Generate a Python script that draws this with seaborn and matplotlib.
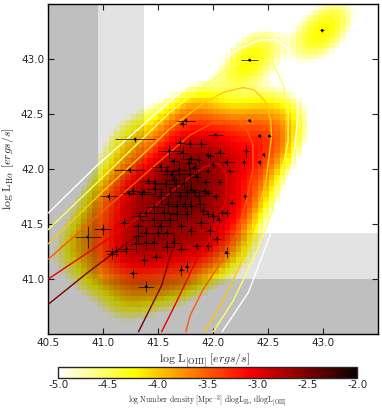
import numpy as np
import matplotlib
matplotlib.use("Agg")
import matplotlib.pyplot as plt
import seaborn as sns
import pandas as pd

# ---------------- data ----------------
log_l_oiii = [42.99, 42.33, 42.33, 42.42, 42.51, 42.02, 41.75, 41.72, 41.29, 41.24,
              42.30, 42.46, 42.42, 42.28, 42.15, 42.12, 42.06, 42.06, 41.89, 41.79,
              41.70, 41.60, 41.72, 41.80, 41.87, 41.95, 41.52, 41.58, 41.62, 41.69,
              41.83, 41.79, 41.93, 41.41, 41.47, 41.57, 41.66, 41.73, 41.37, 41.35,
              41.23, 41.05, 42.29, 41.95, 41.80, 41.87, 40.86, 41.00, 41.19, 41.08,
              41.12, 41.21, 41.27, 41.39, 41.30, 41.32, 41.33, 41.39, 41.37, 41.48,
              41.46, 41.39, 41.46, 41.52, 41.58, 41.61, 41.55, 41.64, 41.71, 41.80,
              41.85, 41.71, 41.76, 41.67, 41.74, 41.80, 41.88, 41.95, 42.00, 42.05,
              42.12, 42.17, 42.03, 42.12, 41.97, 41.89, 42.08, 41.46, 41.39, 41.59,
              41.67, 41.76, 41.91, 41.32, 41.50, 41.58, 41.71, 41.95, 41.61, 41.76,
              41.83, 42.02, 41.52, 41.70, 41.92, 41.27, 41.47, 41.64, 41.85, 41.78,
              41.97, 41.64, 42.00, 41.95]
log_l_ha = [43.26, 42.99, 42.44, 42.30, 42.30, 42.31, 42.44, 42.41, 42.27, 41.99,
            42.16, 42.13, 42.06, 42.06, 41.98, 42.06, 42.15, 41.88, 42.23, 42.23,
            42.24, 42.16, 42.15, 42.09, 42.08, 41.98, 42.02, 41.98, 41.95, 41.99,
            42.01, 41.95, 41.88, 41.89, 41.87, 41.86, 41.86, 41.87, 41.79, 41.77,
            41.78, 41.75, 41.75, 41.78, 41.81, 41.75, 41.38, 41.45, 41.51, 41.23,
            41.25, 41.27, 41.05, 40.93, 41.32, 41.39, 41.57, 41.33, 41.17, 41.20,
            41.33, 41.42, 41.54, 41.48, 41.42, 41.54, 41.60, 41.33, 41.48, 41.44,
            41.30, 41.08, 41.11, 41.66, 41.68, 41.66, 41.68, 41.59, 41.57, 41.54,
            41.60, 41.69, 41.36, 41.24, 41.44, 41.51, 41.60, 41.65, 41.60, 41.68,
            41.59, 41.59, 41.62, 41.48, 41.42, 41.29, 41.27, 41.30, 41.79, 41.79,
            41.79, 41.75, 41.75, 41.75, 41.80, 41.80, 41.82, 41.90, 41.93, 42.05,
            42.12, 42.07, 42.04, 42.13]
err_oiii = [0.02, 0.08, 0.01, 0.01, 0.01, 0.07, 0.08, 0.03, 0.18, 0.14,
            0.03, 0.01, 0.01, 0.02, 0.03, 0.08, 0.05, 0.03, 0.05, 0.05,
            0.04, 0.10, 0.06, 0.07, 0.03, 0.03, 0.08, 0.12, 0.10, 0.07,
            0.05, 0.09, 0.04, 0.06, 0.10, 0.12, 0.06, 0.05, 0.06, 0.12,
            0.06, 0.08, 0.02, 0.04, 0.06, 0.05, 0.12, 0.08, 0.05, 0.05,
            0.10, 0.08, 0.04, 0.07, 0.06, 0.05, 0.08, 0.07, 0.04, 0.05,
            0.04, 0.06, 0.12, 0.08, 0.04, 0.06, 0.10, 0.07, 0.05, 0.04,
            0.04, 0.02, 0.02, 0.08, 0.06, 0.05, 0.05, 0.05, 0.04, 0.03,
            0.03, 0.03, 0.03, 0.02, 0.05, 0.06, 0.03, 0.08, 0.10, 0.07,
            0.06, 0.05, 0.04, 0.05, 0.06, 0.05, 0.05, 0.03, 0.10, 0.06,
            0.05, 0.03, 0.08, 0.06, 0.04, 0.06, 0.07, 0.06, 0.05, 0.04,
            0.04, 0.05, 0.03, 0.03]
err_ha = [0.01, 0.01, 0.01, 0.02, 0.01, 0.01, 0.02, 0.03, 0.02, 0.03,
          0.06, 0.02, 0.02, 0.03, 0.02, 0.03, 0.05, 0.03, 0.04, 0.04,
          0.05, 0.06, 0.06, 0.04, 0.03, 0.03, 0.04, 0.05, 0.03, 0.07,
          0.05, 0.06, 0.03, 0.03, 0.04, 0.05, 0.06, 0.05, 0.03, 0.05,
          0.03, 0.03, 0.02, 0.03, 0.08, 0.05, 0.10, 0.05, 0.04, 0.05,
          0.05, 0.04, 0.04, 0.05, 0.08, 0.05, 0.05, 0.06, 0.05, 0.04,
          0.05, 0.05, 0.05, 0.05, 0.04, 0.06, 0.05, 0.05, 0.06, 0.05,
          0.03, 0.05, 0.05, 0.06, 0.05, 0.07, 0.05, 0.04, 0.05, 0.03,
          0.04, 0.02, 0.03, 0.05, 0.05, 0.06, 0.03, 0.05, 0.04, 0.07,
          0.05, 0.06, 0.04, 0.04, 0.05, 0.06, 0.04, 0.04, 0.05, 0.06,
          0.04, 0.03, 0.06, 0.05, 0.04, 0.04, 0.05, 0.05, 0.05, 0.06,
          0.03, 0.04, 0.03, 0.03]

# model luminosity-function contours (log number density levels)
contour_levels = [-5.0, -4.5, -4.0, -3.5, -3.0, -2.5]
contour_m50_x = [40.50, 40.95, 41.36, 41.76, 42.00, 42.23, 42.42, 42.56, 42.68, 42.75, 42.77, 42.73, 42.64, 42.52, 42.32, 42.08]
contour_m50_y = [41.60, 42.04, 42.40, 42.75, 42.93, 43.09, 43.17, 43.18, 43.10, 42.88, 42.50, 42.10, 41.75, 41.41, 40.88, 40.52]
contour_m45_x = [40.50, 41.00, 41.61, 41.91, 42.15, 42.30, 42.41, 42.55, 42.64, 42.68, 42.68, 42.64, 42.53, 42.39, 42.18, 42.00]
contour_m45_y = [41.45, 41.93, 42.52, 42.75, 42.92, 42.99, 43.00, 42.95, 42.75, 42.51, 42.25, 42.06, 41.60, 41.24, 40.80, 40.52]
contour_m40_x = [40.50, 41.00, 41.41, 41.61, 41.91, 42.10, 42.27, 42.37, 42.47, 42.52, 42.53, 42.48, 42.35, 42.24, 42.09, 41.92]
contour_m40_y = [41.32, 41.80, 42.18, 42.37, 42.60, 42.70, 42.74, 42.72, 42.62, 42.45, 42.30, 41.90, 41.39, 41.12, 40.80, 40.52]
contour_m35_x = [40.50, 41.00, 41.50, 41.79, 42.00, 42.17, 42.30, 42.36, 42.36, 42.29, 42.21, 42.05, 41.91, 41.79, 41.75]
contour_m35_y = [41.18, 41.62, 42.06, 42.31, 42.42, 42.44, 42.37, 42.22, 42.00, 41.66, 41.41, 41.12, 40.91, 40.67, 40.52]
contour_m30_x = [40.50, 40.95, 41.41, 41.70, 41.92, 42.05, 42.12, 42.12, 42.06, 41.98, 41.85, 41.65, 41.53]
contour_m30_y = [41.00, 41.30, 41.62, 41.86, 42.02, 42.05, 41.95, 41.75, 41.55, 41.38, 41.18, 40.76, 40.52]
contour_m25_x = [40.50, 40.86, 41.18, 41.41, 41.55, 41.64, 41.65, 41.60, 41.53, 41.41, 41.32]
contour_m25_y = [40.77, 41.06, 41.30, 41.47, 41.53, 41.45, 41.32, 41.18, 40.94, 40.70, 40.52]

# completeness limits (shaded regions)
oiii_limit_hard, oiii_limit_soft = 40.95, 41.37
ha_limit_hard, ha_limit_soft = 41.00, 41.42

# ---------------- figure ----------------
sns.set_style("white")
plt.rcParams["mathtext.fontset"] = "cm"
plt.rcParams["font.family"] = ["DejaVu Sans"]

fig = plt.figure(figsize=(3.82, 4.13), dpi=100)
ax = fig.add_axes([0.1264, 0.1913, 0.864, 0.7990])
lo, hi = 40.5, 43.5

# density map: kernel sum around every galaxy
step = 0.05
centres = np.arange(lo + step / 2, hi, step)
GX, GY = np.meshgrid(centres, centres)
sig, rho, single_peak, gamma = 0.18, 0.5, -4.22, 1.32
dens = np.zeros_like(GX)
for x0, y0 in zip(log_l_oiii, log_l_ha):
    dx = (GX - x0) / sig
    dy = (GY - y0) / sig
    q = (dx * dx - 2 * rho * dx * dy + dy * dy) / (1 - rho ** 2)
    dens += np.exp(-0.5 * q)
with np.errstate(divide="ignore"):
    logd = gamma * np.log10(dens) + single_peak
logd = np.ma.masked_less(logd, -5.0)
im = ax.imshow(logd, origin="lower", extent=(lo, hi, lo, hi), cmap="hot_r",
               vmin=-5, vmax=-2, interpolation="nearest", aspect="auto", zorder=1)

# shaded incompleteness regions
ax.fill([lo, oiii_limit_hard, oiii_limit_hard, hi, hi, lo],
        [hi, hi, ha_limit_hard, ha_limit_hard, lo, lo],
        color="k", alpha=0.25, lw=0, zorder=2)
ax.fill([oiii_limit_hard, oiii_limit_soft, oiii_limit_soft, hi, hi, oiii_limit_hard],
        [hi, hi, ha_limit_soft, ha_limit_soft, ha_limit_hard, ha_limit_hard],
        color="k", alpha=0.11, lw=0, zorder=2)

# model contours
cmap = plt.get_cmap("hot_r")
cx = [contour_m50_x, contour_m45_x, contour_m40_x, contour_m35_x, contour_m30_x, contour_m25_x]
cy = [contour_m50_y, contour_m45_y, contour_m40_y, contour_m35_y, contour_m30_y, contour_m25_y]
for lev, xs, ys in zip(contour_levels, cx, cy):
    df = pd.DataFrame({"x": xs, "y": ys})
    sns.lineplot(data=df, x="x", y="y", sort=False, estimator=None, ax=ax,
                 color=cmap((lev + 5) / 3.0), lw=1.0, zorder=3)

# galaxies with error bars
ax.errorbar(log_l_oiii, log_l_ha, xerr=err_oiii, yerr=err_ha, fmt="none",
            ecolor="k", elinewidth=0.5, capsize=0, zorder=4)
pts = pd.DataFrame({"x": log_l_oiii, "y": log_l_ha})
sns.scatterplot(data=pts, x="x", y="y", ax=ax, color="k", s=4, marker="o",
                edgecolor="none", zorder=5)

ax.set_xlim(lo, hi)
ax.set_ylim(lo, hi)
ax.set_xticks(np.arange(40.5, 43.01, 0.5))
ax.set_yticks(np.arange(41.0, 43.01, 0.5))
ax.xaxis.set_major_formatter(matplotlib.ticker.FormatStrFormatter("%.1f"))
ax.yaxis.set_major_formatter(matplotlib.ticker.FormatStrFormatter("%.1f"))
ax.tick_params(direction="in", length=4, width=0.8, labelsize=7.5, top=True, right=True,
               bottom=True, left=True, pad=3)
for sp in ax.spines.values():
    sp.set_color("k")
    sp.set_linewidth(1.0)
ax.set_xlabel(r"$\mathrm{log\ L_{[OIII]}}\ [ergs/s]$", fontsize=8.5)
ax.set_ylabel(r"$\mathrm{log\ L_{H\alpha}}\ [ergs/s]$", fontsize=8.5)
ax.xaxis.set_label_coords(0.475, -0.055)
ax.yaxis.set_label_coords(-0.098, 0.5)

cax = fig.add_axes([0.1526, 0.0855, 0.7827, 0.0252])
cb = fig.colorbar(im, cax=cax, orientation="horizontal", ticks=np.arange(-5.0, -1.99, 0.5))
cb.ax.xaxis.set_major_formatter(matplotlib.ticker.FormatStrFormatter("%.1f"))
cb.ax.tick_params(direction="in", length=3, width=0.6, labelsize=7.5, pad=2)
cb.outline.set_linewidth(1.0)
cb.set_label(r"$\mathrm{log\ Number\ density\ [Mpc^{-3}]\ dlogL_{H\alpha}\ dlogL_{[OIII]}}$",
             fontsize=5.5, labelpad=2)

fig.savefig("out.png", dpi=100)
